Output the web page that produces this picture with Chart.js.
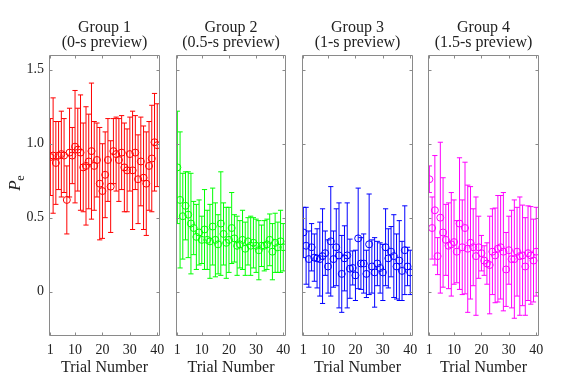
<!DOCTYPE html>
<html><head><meta charset="utf-8">
<script src="https://cdn.jsdelivr.net/npm/chart.js@4/dist/chart.umd.min.js"></script>
<style>
html,body{margin:0;padding:0;background:#fff;}
#wrap{position:relative;width:574px;height:384px;overflow:hidden;}
#wrap canvas{position:absolute;left:0;top:0;}
</style></head><body>
<div id="wrap">
<canvas id="c1" width="574" height="384"></canvas>
<canvas id="c2" width="574" height="384"></canvas>
<canvas id="c3" width="574" height="384"></canvas>
<canvas id="c4" width="574" height="384"></canvas>
</div>
<script>
// ---- data ----
const trials = [1,2,3,4,5,6,7,8,9,10,11,12,13,14,15,16,17,18,19,20,21,22,23,24,25,26,27,28,29,30,31,32,33,34,35,36,37,38,39,40];
const groupTitles = [
  ['Group 1','(0-s preview)'],
  ['Group 2','(0.5-s preview)'],
  ['Group 3','(1-s preview)'],
  ['Group 4','(1.5-s preview)']
];
const g1Mean = [0.91,0.92,0.87,0.92,0.93,0.92,0.62,0.94,0.92,0.98,0.96,0.94,0.84,0.85,0.88,0.95,0.85,0.89,0.73,0.68,0.79,0.89,0.71,0.95,0.93,0.89,0.94,0.84,0.82,0.93,0.82,0.94,0.76,0.88,0.77,0.73,0.85,0.90,1.01,0.99];
const g1Err  = [0.26,0.39,0.28,0.23,0.29,0.25,0.23,0.30,0.19,0.38,0.28,0.39,0.30,0.40,0.32,0.46,0.30,0.25,0.38,0.32,0.29,0.28,0.31,0.22,0.25,0.28,0.25,0.30,0.28,0.25,0.40,0.25,0.30,0.30,0.35,0.35,0.30,0.36,0.33,0.28];
const g2Mean = [0.84,0.62,0.51,0.58,0.52,0.46,0.43,0.37,0.40,0.35,0.42,0.35,0.34,0.44,0.35,0.32,0.46,0.39,0.33,0.35,0.43,0.36,0.31,0.32,0.35,0.29,0.34,0.31,0.33,0.31,0.28,0.31,0.31,0.32,0.35,0.27,0.33,0.30,0.34,0.30];
const g2Err  = [0.38,0.46,0.29,0.23,0.29,0.34,0.18,0.22,0.22,0.16,0.27,0.20,0.25,0.26,0.25,0.20,0.35,0.21,0.24,0.22,0.24,0.16,0.20,0.16,0.20,0.18,0.16,0.20,0.17,0.18,0.20,0.14,0.17,0.17,0.175,0.19,0.20,0.17,0.21,0.16];
const g3Mean = [0.40,0.31,0.22,0.30,0.23,0.225,0.22,0.24,0.26,0.17,0.34,0.22,0.30,0.245,0.12,0.225,0.245,0.155,0.16,0.11,0.36,0.19,0.19,0.12,0.32,0.17,0.13,0.19,0.16,0.13,0.30,0.225,0.27,0.24,0.17,0.21,0.14,0.28,0.17,0.13];
const g3Err  = [0.17,0.26,0.19,0.16,0.16,0.20,0.25,0.32,0.15,0.18,0.37,0.19,0.26,0.355,0.26,0.22,0.355,0.20,0.115,0.17,0.34,0.175,0.20,0.16,0.34,0.18,0.235,0.15,0.17,0.19,0.26,0.20,0.17,0.28,0.22,0.27,0.20,0.30,0.13,0.15];
const g4Mean = [0.76,0.43,0.55,0.24,0.50,0.40,0.35,0.31,0.32,0.335,0.27,0.46,0.30,0.43,0.29,0.33,0.30,0.24,0.30,0.26,0.21,0.19,0.18,0.27,0.245,0.29,0.30,0.27,0.15,0.28,0.22,0.22,0.27,0.24,0.245,0.17,0.26,0.245,0.21,0.27];
const g4Err  = [0.09,0.21,0.37,0.125,0.51,0.37,0.24,0.29,0.35,0.285,0.21,0.445,0.32,0.445,0.43,0.38,0.26,0.40,0.21,0.12,0.10,0.14,0.33,0.29,0.32,0.36,0.35,0.40,0.25,0.23,0.33,0.40,0.30,0.40,0.34,0.33,0.32,0.33,0.28,0.30];
const xTicks = [1,10,20,30,40];
const yTicks = [0,0.5,1,1.5];
const xLabel = 'Trial Number';
const yLabelMain = 'P';
const yLabelSub = 'e';

// ---- styling / layout ----
const means = [g1Mean,g2Mean,g3Mean,g4Mean];
const errs = [g1Err,g2Err,g3Err,g4Err];
const colors = ['#ff0000','#00ff00','#0000ff','#ff00ff'];
const panelLeft = [49,176,302,428];
const panelRight = [160,286,413,539];
const W = 574, H = 384;
const FONT = "'Liberation Serif','DejaVu Serif',serif";
const axisColor = '#8a8a8a';
const textColor = '#222222';

Chart.defaults.font.family = FONT;

const panelData = {};

const panelPlugin = {
  id: 'panelDeco',
  beforeDatasetsDraw(chart) {
    const d = panelData[chart.canvas.id];
    const {ctx, chartArea: a, scales: {x, y}} = chart;
    ctx.save();
    ctx.beginPath();
    ctx.rect(a.left, a.top, a.right - a.left, a.bottom - a.top);
    ctx.clip();
    ctx.strokeStyle = d.color;
    ctx.lineWidth = 1;
    const cap = 2.6;
    d.mean.forEach((m, i) => {
      const px = x.getPixelForValue(d.trials[i]);
      const yt = y.getPixelForValue(m + d.err[i]);
      const yb = y.getPixelForValue(m - d.err[i]);
      ctx.beginPath();
      ctx.moveTo(px, yt); ctx.lineTo(px, yb);
      ctx.moveTo(px - cap, yt); ctx.lineTo(px + cap, yt);
      ctx.moveTo(px - cap, yb); ctx.lineTo(px + cap, yb);
      ctx.stroke();
    });
    ctx.restore();
  },
  afterDraw(chart) {
    const d = panelData[chart.canvas.id];
    const {ctx, chartArea: a, scales: {x, y}} = chart;
    const L = Math.round(a.left) + 0.5, R = Math.round(a.right) - 0.5;
    const T = Math.round(a.top) + 0.5, B = Math.round(a.bottom) - 0.5;
    ctx.save();
    ctx.strokeStyle = axisColor;
    ctx.lineWidth = 1;
    ctx.beginPath();
    ctx.rect(L, T, R - L, B - T);
    ctx.stroke();
    const tl = 3;
    ctx.beginPath();
    xTicks.forEach(v => {
      const px = Math.round(x.getPixelForValue(v)) + 0.5;
      ctx.moveTo(px, B); ctx.lineTo(px, B - tl);
      ctx.moveTo(px, T); ctx.lineTo(px, T + tl);
    });
    yTicks.forEach(v => {
      const py = Math.round(y.getPixelForValue(v)) + 0.5;
      ctx.moveTo(L, py); ctx.lineTo(L + tl, py);
      ctx.moveTo(R, py); ctx.lineTo(R - tl, py);
    });
    ctx.stroke();
    if (d.showYLabel) {
      const cy = (y.getPixelForValue(0.75));
      ctx.translate(20, cy + 10);
      ctx.rotate(-Math.PI / 2);
      ctx.fillStyle = textColor;
      ctx.textBaseline = 'alphabetic';
      ctx.textAlign = 'left';
      ctx.font = "italic 17px " + FONT;
      ctx.fillText(yLabelMain, 0, 0);
      const w = ctx.measureText(yLabelMain).width;
      ctx.font = "12px " + FONT;
      ctx.fillText(yLabelSub, w - 0.5, 3.5);
    }
    ctx.restore();
  }
};

function makePanel(k) {
  const id = 'c' + (k + 1);
  const first = k === 0;
  panelData[id] = { mean: means[k], err: errs[k], trials: trials, color: colors[k], showYLabel: first };
  new Chart(document.getElementById(id), {
    type: 'scatter',
    data: {
      datasets: [{
        data: trials.map((t, i) => ({ x: t, y: means[k][i] })),
        pointStyle: 'circle',
        pointRadius: 3.5,
        pointHoverRadius: 3.5,
        borderColor: colors[k],
        backgroundColor: 'rgba(0,0,0,0)',
        pointBorderWidth: 1,
        borderWidth: 1,
        showLine: false,
        clip: 0
      }]
    },
    options: {
      responsive: false,
      animation: false,
      devicePixelRatio: 1,
      events: [],
      layout: { padding: { left: first ? 0 : panelLeft[k], right: W - panelRight[k], top: 0, bottom: 0 } },
      plugins: {
        legend: { display: false },
        tooltip: { enabled: false },
        title: {
          display: true,
          text: groupTitles[k],
          color: textColor,
          font: { size: 16, weight: 'normal', lineHeight: 0.94 },
          padding: { top: 20, bottom: 4.9 },
          fullSize: false
        }
      },
      scales: {
        x: {
          type: 'linear',
          min: 0.5, max: 41,
          grid: { display: false, drawTicks: false },
          border: { display: false },
          afterBuildTicks: s => { s.ticks = xTicks.map(v => ({ value: v })); },
          afterFit: s => { s.height = H - 336; },
          ticks: { color: textColor, font: { size: 14 }, padding: 6, maxRotation: 0, minRotation: 0, autoSkip: false },
          title: { display: true, text: xLabel, color: textColor, font: { size: 16 }, padding: { top: 0, bottom: 7 } }
        },
        y: {
          type: 'linear',
          min: -0.3, max: 1.6,
          grid: { display: false, drawTicks: false },
          border: { display: false },
          afterBuildTicks: s => { s.ticks = yTicks.map(v => ({ value: v })); },
          afterFit: s => { s.width = first ? panelLeft[0] : 0; },
          ticks: { display: first, color: textColor, font: { size: 14 }, padding: 5 }
        }
      }
    },
    plugins: [panelPlugin]
  });
}
[0, 1, 2, 3].forEach(makePanel);
</script>
</body></html>
